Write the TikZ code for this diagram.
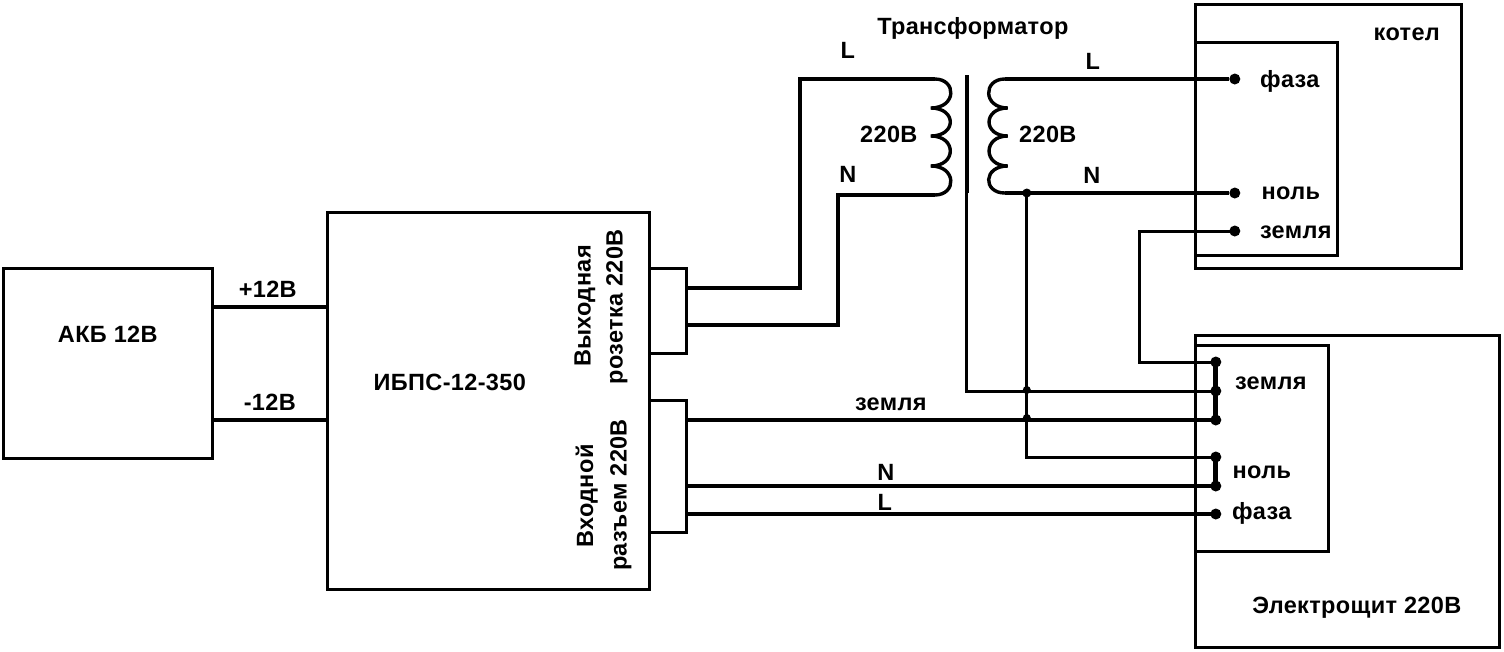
\documentclass[tikz,border=0pt]{standalone}
\usepackage{fontspec}
\setmainfont{Liberation Sans}
\begin{document}
\begin{tikzpicture}[x=1pt,y=-1pt,
  boxline/.style={draw=black,line width=3pt,line join=miter},
  wire/.style={draw=black,line width=3.4pt,line join=miter},
  thinwire/.style={draw=black,line width=3pt,line join=miter},
  strap/.style={draw=black,line width=5pt},
  dotbig/.style={circle,fill=black,inner sep=0pt,minimum size=11pt},
  dotsmall/.style={circle,fill=black,inner sep=0pt,minimum size=8pt},
  lbl/.style={inner sep=0pt,font=\fontsize{23.5}{25}\selectfont\bfseries\addfontfeature{LetterSpace=1.5}}]
\useasboundingbox (0,0) rectangle (1504,651);
\fill[white] (0,0) rectangle (1504,651);
\begin{scope}[xshift=-0.2pt]
% boxes
\draw[boxline] (4,268) rectangle (213,458);
\draw[boxline] (328,212) rectangle (650,589);
\draw[boxline] (650,268) -- (687,268) -- (687,353) -- (650,353);
\draw[boxline] (650,400) -- (687,400) -- (687,532) -- (650,532);
\draw[boxline] (1196,4) rectangle (1462,268);
\draw[boxline] (1196,42) rectangle (1338,255);
\draw[boxline] (1196,335) rectangle (1500,647);
\draw[boxline] (1196,345) rectangle (1329,551);
% anchors
\coordinate (bp) at (213,307); \coordinate (ip) at (328,307);
\coordinate (bm) at (213,420); \coordinate (im) at (328,420);
\coordinate (ol) at (687,288); \coordinate (on) at (687,325);
\coordinate (pl) at (935,79);  \coordinate (pn) at (935,195);
\coordinate (sl) at (1005,79); \coordinate (sn) at (1005,193);
\coordinate (ig) at (687,420); \coordinate (in1) at (687,486); \coordinate (il) at (687,514);
\node[dotbig] (kf) at (1235,79) {};
\node[dotbig] (kn) at (1235,193) {};
\node[dotbig] (kg) at (1235,231) {};
\node[dotbig] (s1) at (1216,362) {};
\node[dotbig] (s2) at (1216,391) {};
\node[dotbig] (s3) at (1216,420) {};
\node[dotbig] (s4) at (1216,457) {};
\node[dotbig] (s5) at (1216,486) {};
\node[dotbig] (s6) at (1216,514) {};
\node[dotbig,minimum size=9pt] (j0) at (1027,193) {};
\node[dotsmall] (j1) at (1027,390) {};
\node[dotsmall] (j2) at (1027,418) {};
% wires
\draw[wire] (bp) -- (ip);
\draw[wire] (bm) -- (im);
\draw[wire] (ol) -- (800,288) -- (800,79) -- (pl);
\draw[wire] (on) -- (838,325) -- (838,195) -- (pn);
\draw[wire] (sl) -- (kf);
\draw[wire] (sn) -- (kn);
\draw[thinwire] (j0.center) -- (1027,457) -- (s4.center);
\draw[thinwire] (kg.center) -- (1140,231) -- (1140,362) -- (s1.center);
\draw[line width=4.6pt] (967,75) -- (967,193);
\draw[thinwire] (967,193) -- (967,391) -- (s2.center);
\draw[wire] (ig) -- (s3.center);
\draw[wire] (in1) -- (s5.center);
\draw[wire] (il) -- (s6.center);
\draw[strap] (s1.center) -- (s3.center);
\draw[strap] (s4.center) -- (s5.center);
% coils
\draw[wire,line cap=round] (pl) .. controls (957,79) and (957,108) .. (931,108)
  .. controls (957,108) and (957,136) .. (931,136)
  .. controls (957,136) and (957,166) .. (931,166)
  .. controls (957,166) and (957,195) .. (pn);
\draw[wire,line cap=round] (sl) .. controls (983,79) and (983,108) .. (1008,108)
  .. controls (983,108) and (983,136) .. (1008,136)
  .. controls (983,136) and (983,166) .. (1008,166)
  .. controls (983,166) and (983,193) .. (sn);
% labels
\node[lbl] (t1) at (108,334) {АКБ 12В};
\node[lbl] (t2) at (268,289) {+12В};
\node[lbl] (t3) at (270,402) {-12В};
\node[lbl] (t4) at (450,382) {ИБПС-12-350};
\node[lbl,rotate=90] (t5) at (585,306) {Выходная};
\node[lbl,rotate=90] (t6) at (617,307) {розетка 220В};
\node[lbl,rotate=90] (t7) at (587,496) {Входной};
\node[lbl,rotate=90] (t8) at (621,495) {разъем 220В};
\node[lbl] (t9) at (973,28) {Трансформатор};
\node[lbl] (t10) at (848,50) {L};
\node[lbl] (t11) at (889,134) {220В};
\node[lbl] (t12) at (848,174) {N};
\node[lbl] (t13) at (1048,134) {220В};
\node[lbl] (t14) at (1093,61) {L};
\node[lbl] (t15) at (1092,175) {N};
\node[lbl] (t16) at (1290,81) {фаза};
\node[lbl] (t17) at (1291,193) {ноль};
\node[lbl] (t18) at (1296,232) {земля};
\node[lbl] (t19) at (1407,34) {котел};
\node[lbl] (t20) at (1271,383) {земля};
\node[lbl] (t21) at (1262,472) {ноль};
\node[lbl] (t22) at (1262,513) {фаза};
\node[lbl] (t23) at (1357,608) {Электрощит 220В};
\node[lbl] (t24) at (891,404) {земля};
\node[lbl] (t25) at (886,472) {N};
\node[lbl] (t26) at (885,502) {L};
\end{scope}
\end{tikzpicture}
\end{document}
